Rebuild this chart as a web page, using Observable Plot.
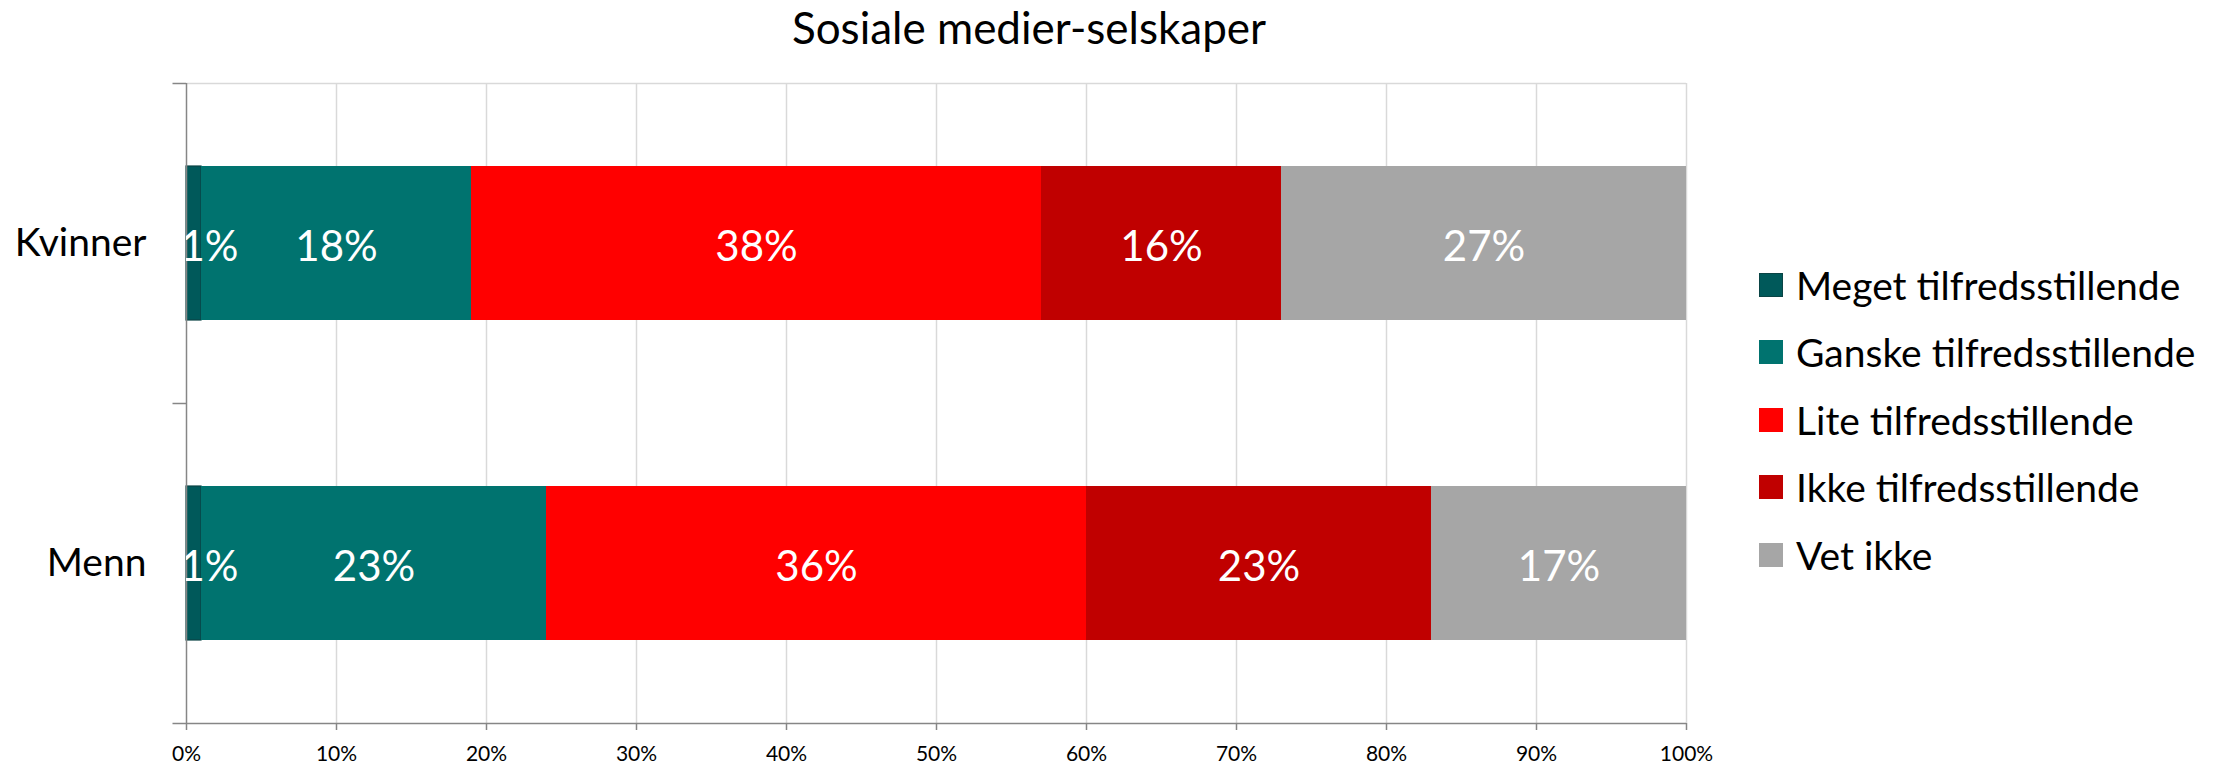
<!DOCTYPE html>
<html><head><meta charset="utf-8">
<script src="https://cdn.jsdelivr.net/npm/d3@7"></script>
<script src="https://cdn.jsdelivr.net/npm/@observablehq/plot@0.6"></script>
<style>
body{margin:0;background:#fff;font-family:Lato, "Open Sans", sans-serif;}
#wrap{position:relative;width:2218px;height:772px;overflow:hidden;}
#chart{position:absolute;left:0;top:0;}
#title{position:absolute;left:0;width:2058px;top:5px;text-align:center;font-size:44px;line-height:1;color:#000;}
#legend{position:absolute;left:1759px;top:251px;}
.item{display:flex;align-items:center;height:67.5px;font-size:39px;color:#000;white-space:nowrap;}
.sw{width:24px;height:24px;margin-right:13px;flex:none;box-sizing:border-box;}
</style>
</head><body>
<div id="wrap">
  <div id="chart"></div>
  <div id="title">Sosiale medier-selskaper</div>
  <div id="legend"></div>
</div>
<script>
const categories = ["Kvinner", "Menn"];
const series = ["Meget tilfredsstillende", "Ganske tilfredsstillende", "Lite tilfredsstillende", "Ikke tilfredsstillende", "Vet ikke"];
const kvinnerValues = [1, 18, 38, 16, 27];
const mennValues = [1, 23, 36, 23, 17];
const colors = ["#00595A", "#00736F", "#FF0000", "#C00000", "#A6A6A6"];
const xTicks = [0, 10, 20, 30, 40, 50, 60, 70, 80, 90, 100];

const valuesByCat = {"Kvinner": kvinnerValues, "Menn": mennValues};
const rows = [];
for (const c of categories) {
  series.forEach((s, i) => rows.push({cat: c, series: s, value: valuesByCat[c][i]}));
}

const half = 160;
const chart = Plot.plot({
  width: 2218,
  height: 772,
  marginLeft: 186,
  marginRight: 532,
  marginTop: 83,
  marginBottom: 49,
  style: {fontFamily: "Lato, 'Open Sans', sans-serif", color: "#000", background: "#fff", overflow: "visible"},
  x: {domain: [0, 100]},
  y: {domain: categories, paddingInner: 0.52, paddingOuter: 0.26},
  color: {domain: series, range: colors},
  marks: [
    Plot.gridX({ticks: xTicks.slice(1), stroke: "#d9d9d9", strokeOpacity: 1, strokeWidth: 1.5}),
    Plot.ruleY([categories[0]], {dy: -half, x1: 0, x2: 100, stroke: "#d9d9d9", strokeWidth: 1.5}),
    Plot.barX(rows, Plot.stackX({x: "value", y: "cat", fill: "series", order: series, stroke: d => d.series === series[0] ? "#0a4445" : "none", strokeWidth: 1.2})),
    Plot.ruleX([0], {stroke: "#868686", strokeWidth: 1.5}),
    Plot.ruleY([categories[categories.length - 1]], {dy: half, x1: -0.9, x2: 100, stroke: "#868686", strokeWidth: 1.5}),
    Plot.ruleY(categories, {dy: -half, x1: -0.9, x2: 0, stroke: "#868686", strokeWidth: 1.5}),
    Plot.axisX({ticks: xTicks, tickFormat: d => d + "%", tickSize: 7, tickPadding: 16, fontSize: 21, stroke: "#868686", strokeWidth: 1.5, label: null}),
    Plot.axisY({tickSize: 0, tickPadding: 40, fontSize: 39, label: null}),
    Plot.text(rows, Plot.stackX({x: "value", y: "cat", z: "series", order: series, text: d => d.value >= 3 ? d.value + "%" : "", fill: "white", fontSize: 42, dy: 4})),
    Plot.text(rows, Plot.stackX1({x: "value", y: "cat", z: "series", order: series, text: d => d.value < 3 ? d.value + "%" : "", fill: "white", fontSize: 42, dy: 4, textAnchor: "start", dx: -6, clip: true}))
  ]
});
document.getElementById("chart").appendChild(chart);

const legend = document.getElementById("legend");
series.forEach((s, i) => {
  const item = document.createElement("div");
  item.className = "item";
  const sw = document.createElement("span");
  sw.className = "sw";
  sw.style.background = colors[i];
  if (i === 0) sw.style.border = "1px solid #0a4445";
  const t = document.createElement("span");
  t.textContent = s;
  item.appendChild(sw);
  item.appendChild(t);
  legend.appendChild(item);
});
</script>
</body></html>
